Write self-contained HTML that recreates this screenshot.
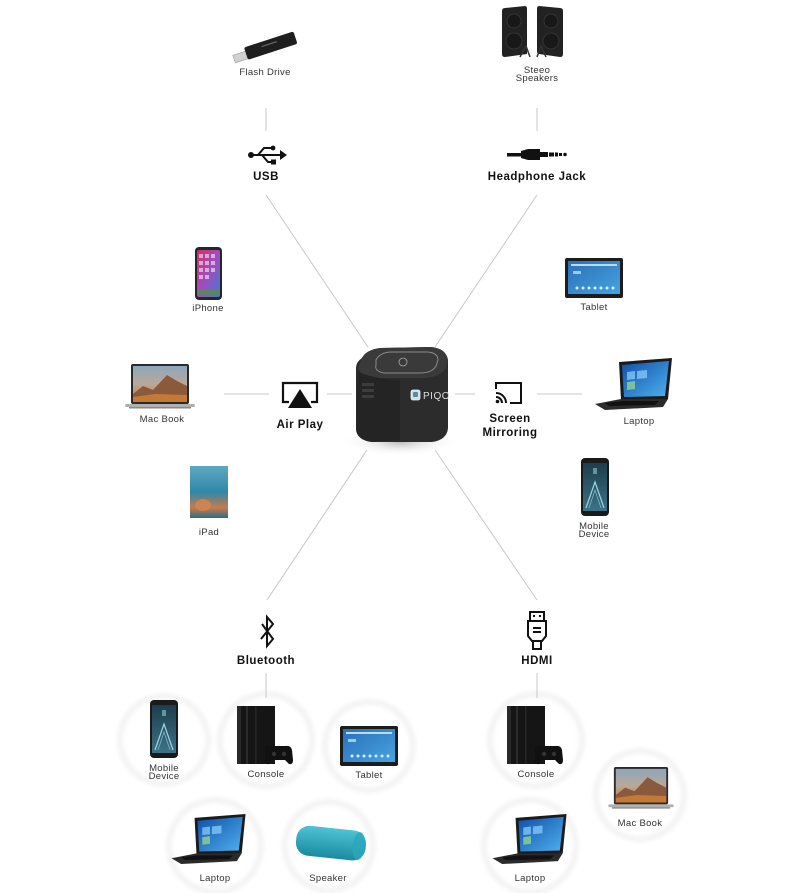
<!DOCTYPE html>
<html><head><meta charset="utf-8"><style>
html,body{margin:0;padding:0;background:#fff;}
svg{display:block;}
text{font-family:"Liberation Sans",sans-serif;}
.s{font-size:9.5px;fill:#333;text-anchor:middle;letter-spacing:0.3px;}
.b{font-size:11.5px;font-weight:bold;fill:#111;text-anchor:middle;letter-spacing:0.5px;}
</style></head><body>
<svg width="809" height="893" viewBox="0 0 809 893" xmlns="http://www.w3.org/2000/svg">
<defs>
<filter id="blur" x="-20%" y="-20%" width="140%" height="140%"><feGaussianBlur stdDeviation="2.5"/></filter>
<linearGradient id="sky" x1="0" y1="0" x2="0" y2="1"><stop offset="0" stop-color="#8ea6bb"/><stop offset="0.5" stop-color="#b9a89a"/><stop offset="1" stop-color="#c2783a"/></linearGradient>
<linearGradient id="win" x1="0" y1="0" x2="1" y2="1"><stop offset="0" stop-color="#0f4fa8"/><stop offset="1" stop-color="#4fb0ee"/></linearGradient>
<linearGradient id="tab" x1="0" y1="0" x2="1" y2="1"><stop offset="0" stop-color="#2a6fb8"/><stop offset="1" stop-color="#46a3e0"/></linearGradient>
<linearGradient id="mob" x1="0" y1="0" x2="0" y2="1"><stop offset="0" stop-color="#1e3d4c"/><stop offset="1" stop-color="#3b7386"/></linearGradient>
<linearGradient id="ipad" x1="0" y1="0" x2="0" y2="1"><stop offset="0" stop-color="#5fa8c4"/><stop offset="0.5" stop-color="#2e88a8"/><stop offset="0.8" stop-color="#c87a4a"/><stop offset="1" stop-color="#2c6c8a"/></linearGradient>
<linearGradient id="iph" x1="0" y1="0" x2="1" y2="1"><stop offset="0" stop-color="#d0306a"/><stop offset="0.5" stop-color="#a04cc0"/><stop offset="1" stop-color="#3a7ed0"/></linearGradient>
<linearGradient id="spk" x1="0" y1="0" x2="0" y2="1"><stop offset="0" stop-color="#4fc3d6"/><stop offset="1" stop-color="#1a8ba0"/></linearGradient>
<radialGradient id="shad" cx="0.5" cy="0.5" r="0.5"><stop offset="0" stop-color="#bbb"/><stop offset="1" stop-color="#fff" stop-opacity="0"/></radialGradient>

<symbol id="mac" viewBox="0 0 70 46">
<rect x="6" y="0" width="58" height="40" rx="2" fill="#2a2a2a"/>
<rect x="8" y="2" width="54" height="36" fill="url(#sky)"/>
<polygon points="8,30 18,22 28,26 42,11 52,17 62,22 62,38 8,38" fill="#8b5a3c"/>
<polygon points="8,33 30,30 62,31 62,38 8,38" fill="#c47a36"/>
<rect x="0" y="40" width="70" height="3" rx="1.5" fill="#b0b0b0"/>
<rect x="4" y="43" width="62" height="1.5" fill="#888"/>
</symbol>

<symbol id="lap" viewBox="0 0 78 52">
<polygon points="24,4 77,0 73,41 26,42" fill="#1b1b1b"/>
<polygon points="27,7 74,3 70,38 29,39" fill="url(#win)"/>
<polygon points="32,14 40,13 40,21 32,22" fill="#8fd0ff" opacity="0.7"/>
<polygon points="42,13 52,12 52,20 42,21" fill="#8fd0ff" opacity="0.7"/>
<polygon points="32,24 40,23 40,31 32,32" fill="#9be08a" opacity="0.7"/>
<polygon points="0,46 26,41 73,41 68,49 10,52" fill="#2b2b2b"/>
<polygon points="10,45 28,43 64,43 60,47 14,48" fill="#111"/>
</symbol>

<symbol id="con" viewBox="0 0 56 60">
<rect x="0" y="0" width="38" height="58" fill="#151515"/>
<rect x="0" y="0" width="4" height="58" fill="#2a2a2a"/>
<rect x="9" y="0" width="2" height="58" fill="#2c2c2c"/>
<rect x="18" y="0" width="1.5" height="58" fill="#262626"/>
<path d="M28,42 Q30,39 36,40 L48,40 Q54,39 55,44 L56,54 Q56,59 52,58 L48,54 L36,54 L32,58 Q28,59 28,54 Z" fill="#111"/>
<circle cx="37" cy="48" r="2.2" fill="#333"/><circle cx="47" cy="48" r="2.2" fill="#333"/>
</symbol>

<symbol id="tabl" viewBox="0 0 58 40">
<rect x="0" y="0" width="58" height="40" rx="2" fill="#1c1c1c"/>
<rect x="3" y="3" width="52" height="33" fill="url(#tab)"/>
<rect x="6" y="6" width="46" height="2" fill="#b8dcf5"/>
<g fill="#d8eefc"><circle cx="12" cy="30" r="1.5"/><circle cx="18" cy="30" r="1.5"/><circle cx="24" cy="30" r="1.5"/><circle cx="30" cy="30" r="1.5"/><circle cx="36" cy="30" r="1.5"/><circle cx="42" cy="30" r="1.5"/><circle cx="48" cy="30" r="1.5"/></g>
<rect x="8" y="13" width="8" height="3" fill="#cfe8fa" opacity="0.7"/>
</symbol>

<symbol id="mobi" viewBox="0 0 28 58">
<rect x="0" y="0" width="28" height="58" rx="4" fill="#1a1a1a"/>
<rect x="2" y="5" width="24" height="48" fill="url(#mob)"/>
<path d="M5,50 L14,24 L23,50" stroke="#9fd3e0" stroke-width="1.2" fill="none"/>
<path d="M8,50 L14,32 L20,50" stroke="#7fb8c8" stroke-width="0.8" fill="none"/>
<rect x="12" y="10" width="4" height="6" fill="#8cc" opacity="0.6"/>
</symbol>
</defs>

<!-- faint circles bottom -->
<g fill="none" stroke="#f1f1f1" stroke-width="5" filter="url(#blur)">
<circle cx="164" cy="740" r="44"/>
<circle cx="266" cy="740" r="46"/>
<circle cx="369" cy="746" r="44"/>
<circle cx="215" cy="846" r="46"/>
<circle cx="329" cy="846" r="44"/>
<circle cx="536" cy="740" r="46"/>
<circle cx="640" cy="795" r="44"/>
<circle cx="530" cy="846" r="46"/>
</g>

<!-- connector lines -->
<g stroke="#c8c8c8" stroke-width="1" fill="none">
<line x1="266" y1="195" x2="368" y2="347"/>
<line x1="537" y1="195" x2="435" y2="347"/>
<line x1="367" y1="450" x2="267" y2="600"/>
<line x1="435" y1="450" x2="537" y2="600"/>
<line x1="224" y1="394" x2="269" y2="394"/>
<line x1="327" y1="394" x2="352" y2="394"/>
<line x1="455" y1="394" x2="475" y2="394"/>
<line x1="537" y1="394" x2="582" y2="394"/>
<line x1="266" y1="108" x2="266" y2="131"/>
<line x1="537" y1="108" x2="537" y2="131"/>
<line x1="266" y1="673" x2="266" y2="698"/>
<line x1="537" y1="673" x2="537" y2="698"/>
</g>

<!-- flash drive -->
<g transform="rotate(-18 268 47)">
<rect x="232" y="44" width="14" height="8" fill="#d0d0d0" stroke="#999" stroke-width="0.6"/>
<rect x="245" y="40" width="52" height="13" rx="2" fill="#1e1e1e"/>
<rect x="262" y="44" width="16" height="1.2" fill="#666"/>
</g>
<text class="s" x="265" y="75">Flash Drive</text>

<!-- stereo speakers -->
<g>
<path d="M505,8 L525,6 Q527,6 527,9 L527,54 L505,57 Q502,57 502,54 L502,11 Q502,8 505,8 Z" fill="#222"/>
<circle cx="514" cy="21" r="7" fill="#181818" stroke="#333"/>
<circle cx="514" cy="41" r="8" fill="#181818" stroke="#333"/>
<path d="M539,6 L560,8 Q563,8 563,11 L563,54 Q563,57 560,57 L539,54 Q537,54 537,51 L537,9 Q537,6 539,6 Z" fill="#222"/>
<circle cx="551" cy="21" r="7" fill="#181818" stroke="#333"/>
<circle cx="551" cy="41" r="8" fill="#181818" stroke="#333"/>
<path d="M520,57 L526,46 L530,57" stroke="#333" stroke-width="1.5" fill="none"/>
<path d="M537,57 L541,46 L546,57" stroke="#333" stroke-width="1.5" fill="none"/>
</g>
<text class="s" x="537" y="73">Steeo</text>
<text class="s" x="537" y="81">Speakers</text>

<!-- USB icon -->
<g stroke="#111" stroke-width="2" fill="#111">
<line x1="251" y1="155" x2="281" y2="155"/>
<polygon points="280,150 287,155 280,160" stroke="none"/>
<circle cx="251" cy="155" r="3" stroke="none"/>
<polyline points="258,155 264,148 272,148" fill="none"/>
<circle cx="273" cy="148" r="2.4" stroke="none"/>
<polyline points="262,155 268,162 273,162" fill="none"/>
<rect x="271" y="159.5" width="5" height="5" stroke="none"/>
</g>
<text class="b" x="266" y="180">USB</text>

<!-- headphone jack -->
<g fill="#111">
<rect x="507" y="153" width="14" height="3.5"/>
<polygon points="521,151 528,149 540,149 540,160 528,160 521,158"/>
<rect x="540" y="152" width="8" height="5"/>
<rect x="549" y="152.5" width="5" height="4"/>
<rect x="555" y="152.5" width="3" height="4"/>
<rect x="559" y="153" width="3" height="3"/>
<circle cx="565" cy="154.5" r="1.8"/>
</g>
<text class="b" x="537" y="180">Headphone Jack</text>

<!-- iPhone -->
<g>
<rect x="195" y="247" width="27" height="53" rx="4" fill="#262626"/>
<rect x="197" y="250" width="23" height="47" rx="2" fill="url(#iph)"/>
<g fill="#fff" opacity="0.55">
<rect x="199" y="254" width="4" height="4"/><rect x="205" y="254" width="4" height="4"/><rect x="211" y="254" width="4" height="4"/>
<rect x="199" y="261" width="4" height="4"/><rect x="205" y="261" width="4" height="4"/><rect x="211" y="261" width="4" height="4"/>
<rect x="199" y="268" width="4" height="4"/><rect x="205" y="268" width="4" height="4"/><rect x="211" y="268" width="4" height="4"/>
<rect x="199" y="275" width="4" height="4"/><rect x="205" y="275" width="4" height="4"/>
</g>
<rect x="198" y="289" width="21" height="6" rx="2" fill="#5a8a4a" opacity="0.8"/>
</g>
<text class="s" x="208" y="311">iPhone</text>

<!-- Tablet top right -->
<use href="#tabl" x="565" y="258" width="58" height="40"/>
<text class="s" x="594" y="310">Tablet</text>

<!-- Mac Book left -->
<use href="#mac" x="125" y="364" width="70" height="46"/>
<text class="s" x="162" y="422">Mac Book</text>

<!-- Air play icon -->
<g>
<path d="M289,402 L283,402 L283,383 L317,383 L317,402 L311,402" stroke="#111" stroke-width="2.2" fill="none"/>
<polygon points="300,389 312,408 288,408" fill="#111"/>
</g>
<text class="b" x="300" y="428">Air Play</text>

<!-- Projector -->
<ellipse cx="400" cy="442" rx="58" ry="14" fill="url(#shad)"/>
<g>
<path d="M362,358 Q366,350 380,348 L430,347 Q446,348 448,360 L448,428 Q447,440 432,442 L372,442 Q356,440 356,428 L356,368 Q356,362 362,358 Z" fill="#2c2c2c"/>
<path d="M362,358 Q366,350 380,348 L430,347 Q446,348 448,360 L446,368 Q440,377 425,378 L378,378 Q360,376 358,368 Z" fill="#3a3a3a"/>
<path d="M376,360 Q380,352 392,352 L428,352 Q438,353 438,360 L436,366 Q432,373 420,373 L384,373 Q374,371 376,365 Z" fill="none" stroke="#8a8a8a" stroke-width="1"/>
<circle cx="403" cy="362" r="4" fill="none" stroke="#aaa" stroke-width="0.8"/>
<path d="M358,372 Q380,380 400,380 L400,440 L372,442 Q356,440 356,428 Z" fill="#242424"/>
<g fill="#3c3c3c"><rect x="362" y="383" width="12" height="3"/><rect x="362" y="389" width="12" height="3"/><rect x="362" y="395" width="12" height="3"/></g>
<rect x="411" y="390" width="9" height="10" rx="2" fill="#c9e3ef" stroke="#eee" stroke-width="0.8"/>
<rect x="413" y="392" width="5" height="5" rx="1" fill="#5b8aa0"/>
<text x="423" y="399" font-family="Liberation Sans,sans-serif" font-size="10" fill="#ddd" letter-spacing="0.5">PIQO</text>
</g>

<!-- Screen mirroring icon -->
<g fill="none" stroke="#111" stroke-width="2">
<path d="M496,389 L496,383 L521,383 L521,403 L510,403"/>
<path d="M496,393 A10,10 0 0 1 506,403"/>
<path d="M496,397 A6,6 0 0 1 502,403"/>
</g>
<circle cx="497.5" cy="401.5" r="1.8" fill="#111"/>
<text class="b" x="510" y="422">Screen</text>
<text class="b" x="510" y="436">Mirroring</text>

<!-- Laptop right -->
<use href="#lap" x="595" y="358" width="78" height="52"/>
<text class="s" x="639" y="424">Laptop</text>

<!-- iPad -->
<rect x="190" y="466" width="38" height="52" fill="url(#ipad)"/>
<ellipse cx="203" cy="505" rx="8" ry="6" fill="#d2874c" opacity="0.8"/>
<text class="s" x="209" y="535">iPad</text>

<!-- Mobile right -->
<use href="#mobi" x="581" y="458" width="28" height="58"/>
<text class="s" x="594" y="529">Mobile</text>
<text class="s" x="594" y="537">Device</text>

<!-- Bluetooth -->
<path d="M262,624 L273,639 L267,646 L267,617 L273,624 L261,639" stroke="#111" stroke-width="2" fill="none" stroke-linejoin="miter"/>
<text class="b" x="266" y="664">Bluetooth</text>

<!-- HDMI -->
<g fill="none" stroke="#111" stroke-width="2">
<rect x="530" y="612" width="14" height="9"/>
<path d="M528,621 L546,621 L546,636 L542,641 L532,641 L528,636 Z"/>
<rect x="533" y="641" width="8" height="8"/>
<line x1="533" y1="628" x2="541" y2="628"/>
<line x1="533" y1="632" x2="541" y2="632"/>
</g>
<g fill="#111"><rect x="533" y="615" width="2" height="2"/><rect x="539" y="615" width="2" height="2"/></g>
<text class="b" x="537" y="664">HDMI</text>

<!-- Bottom left devices -->
<use href="#mobi" x="150" y="700" width="28" height="58"/>
<text class="s" x="164" y="771">Mobile</text>
<text class="s" x="164" y="779">Device</text>

<use href="#con" x="237" y="706" width="56" height="60"/>
<text class="s" x="266" y="777">Console</text>

<use href="#tabl" x="340" y="726" width="58" height="40"/>
<text class="s" x="369" y="778">Tablet</text>

<use href="#lap" x="170" y="814" width="78" height="50"/>
<text class="s" x="215" y="881">Laptop</text>

<g transform="rotate(6 330 843)">
<rect x="296" y="828" width="70" height="30" rx="13" fill="url(#spk)"/>
<ellipse cx="359" cy="843" rx="6" ry="14" fill="#2aa8bc" opacity="0.8"/>
</g>
<text class="s" x="328" y="881">Speaker</text>

<!-- Bottom right devices -->
<use href="#con" x="507" y="706" width="56" height="60"/>
<text class="s" x="536" y="777">Console</text>

<use href="#mac" x="608" y="767" width="66" height="43"/>
<text class="s" x="640" y="826">Mac Book</text>

<use href="#lap" x="490" y="814" width="80" height="50"/>
<text class="s" x="530" y="881">Laptop</text>
</svg>
</body></html>
